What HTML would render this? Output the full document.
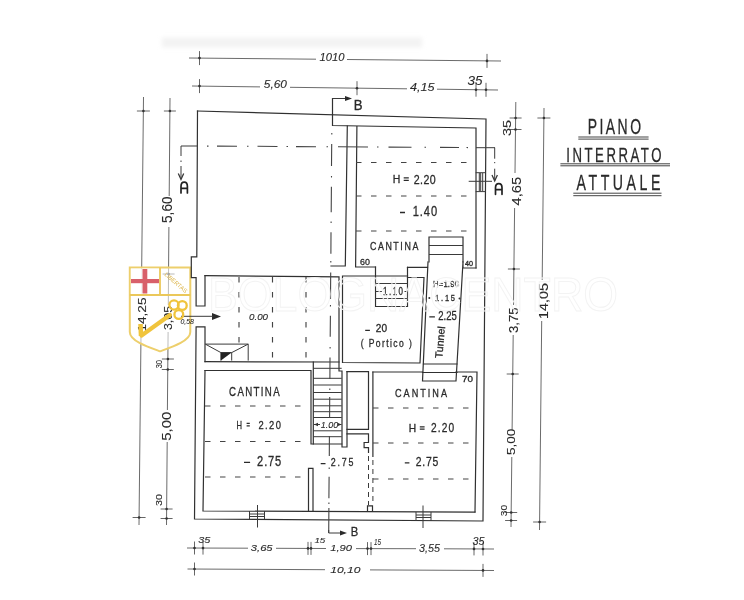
<!DOCTYPE html>
<html><head><meta charset="utf-8">
<style>
html,body{margin:0;padding:0;background:#fff;}
body{width:744px;height:600px;overflow:hidden;}
svg{display:block;will-change:transform;}
text{font-family:"Liberation Sans",sans-serif;fill:#2a2a2a;stroke:#2a2a2a;stroke-width:0.3;}

.w{stroke:#303030;stroke-width:1.2;fill:none;stroke-linecap:square;}
.t{stroke:#3a3a3a;stroke-width:1;fill:none;}
.d{stroke:#5a5a5a;stroke-width:0.9;fill:none;}
.dt{stroke:#555;stroke-width:0.9;fill:none;}
text.th{stroke-width:0.1;}
.dash{stroke:#444;stroke-width:1.15;fill:none;stroke-dasharray:5.5 9.5;}
.dd{stroke:#444;stroke-width:1.1;fill:none;}
.s{stroke:#3a3a3a;stroke-width:1;fill:none;}
</style></head>
<body>
<svg width="744" height="600" viewBox="0 0 744 600">
<rect width="744" height="600" fill="#fff"/>
<!-- bleed --><defs><filter id="bl" x="-10%" y="-50%" width="120%" height="200%"><feGaussianBlur stdDeviation="2"/></filter></defs><rect x="162" y="37.5" width="260" height="10" fill="#f3f3f3" filter="url(#bl)"/>
<!-- ============ DIMENSION LINES ============ -->
<g class="d">
  <path d="M189.0,58.0 L316.0,59.2 M347.0,59.5 L501.0,61.0 M192.0,86.0 L260.0,86.9 M290.0,87.3 L407.0,88.8 M437.0,89.2 L498.0,90.0 M143.5,97.0 L141.4,296.0 M141.0,334.0 L139.0,525.0 M170.0,98.0 L169.2,196.0 M168.9,227.0 L168.3,305.0 M168.1,332.0 L167.4,410.0 M167.2,442.0 L166.5,525.0 M515.8,102.0 L515.0,173.0 M514.6,208.0 L513.5,305.0 M513.2,335.0 L512.1,430.0 M511.8,457.0 L511.0,527.0 M544.0,108.0 L542.2,280.0 M541.7,321.0 L539.5,530.0 M187.0,548.0 L248.0,548.2 M276.0,548.3 L326.0,548.5 M356.0,548.6 L416.0,548.7 M444.0,548.8 L494.0,549.0 M187.5,569.0 L325.0,569.7 M370.0,569.9 L494.0,570.5"/>
</g>
<g class="dt">
  <path d="M199.5,51.1 V65.1 M487.0,53.9 V67.9 M199.5,79.1 V93.1 M357.0,81.2 V95.2 M476.0,82.7 V96.7 M486.0,82.8 V96.8 M136.9,111.0 H149.9 M132.6,517.5 H145.6 M163.9,111.0 H175.9 M162.6,274.0 H174.6 M161.9,359.0 H173.9 M161.8,369.5 H173.8 M160.6,509.0 H172.6 M160.6,518.5 H172.6 M509.6,118.0 H521.6 M509.5,129.5 H521.5 M507.9,269.0 H519.9 M506.7,374.0 H518.7 M505.2,512.5 H517.2 M505.1,520.5 H517.1 M537.4,118.0 H550.4 M533.1,522.0 H546.1 M194.5,541.5 V554.5 M203.0,541.6 V554.6 M308.0,541.9 V554.9 M311.0,541.9 V554.9 M367.5,542.1 V555.1 M371.0,542.1 V555.1 M474.0,542.4 V555.4 M483.0,542.5 V555.5 M194.5,562.5 V575.5 M483.0,563.9 V576.9"/>
</g>
<g fill="#333">
  <circle cx="199.5" cy="58.1" r="1.3"/>
  <circle cx="487.0" cy="60.9" r="1.3"/>
  <circle cx="199.5" cy="86.1" r="1.3"/>
  <circle cx="357.0" cy="88.2" r="1.3"/>
  <circle cx="476.0" cy="89.7" r="1.3"/>
  <circle cx="486.0" cy="89.8" r="1.3"/>
  <circle cx="143.4" cy="111.0" r="1.3"/>
  <circle cx="139.1" cy="517.5" r="1.3"/>
  <circle cx="169.9" cy="111.0" r="1.3"/>
  <circle cx="168.6" cy="274.0" r="1.3"/>
  <circle cx="167.9" cy="359.0" r="1.3"/>
  <circle cx="167.8" cy="369.5" r="1.3"/>
  <circle cx="166.6" cy="509.0" r="1.3"/>
  <circle cx="166.6" cy="518.5" r="1.3"/>
  <circle cx="515.6" cy="118.0" r="1.3"/>
  <circle cx="515.5" cy="129.5" r="1.3"/>
  <circle cx="513.9" cy="269.0" r="1.3"/>
  <circle cx="512.7" cy="374.0" r="1.3"/>
  <circle cx="511.2" cy="512.5" r="1.3"/>
  <circle cx="511.1" cy="520.5" r="1.3"/>
  <circle cx="543.9" cy="118.0" r="1.3"/>
  <circle cx="539.6" cy="522.0" r="1.3"/>
  <circle cx="194.5" cy="548.0" r="1.3"/>
  <circle cx="203.0" cy="548.1" r="1.3"/>
  <circle cx="308.0" cy="548.4" r="1.3"/>
  <circle cx="311.0" cy="548.4" r="1.3"/>
  <circle cx="367.5" cy="548.6" r="1.3"/>
  <circle cx="371.0" cy="548.6" r="1.3"/>
  <circle cx="474.0" cy="548.9" r="1.3"/>
  <circle cx="483.0" cy="549.0" r="1.3"/>
  <circle cx="194.5" cy="569.0" r="1.3"/>
  <circle cx="483.0" cy="570.4" r="1.3"/>
</g>

<!-- ============ LOGO (shield) ============ -->
<g>
  <path d="M129.8,267.5 H190.3 V332 C190.3,341 172,347 160,351.3 C148,347 129.8,341 129.8,332 Z" fill="#fff" fill-opacity="0.55" stroke="#edcf6c" stroke-width="2"/>
  <rect x="130.8" y="268.5" width="28.7" height="25.8" fill="#fff" fill-opacity="0.8"/>
  <path d="M129.8,295 H190.3 M160,267.5 V295" stroke="#ebc85a" stroke-width="1.8" fill="none"/>
  <rect x="142.5" y="269" width="4.8" height="24.5" fill="#d8606a"/>
  <rect x="131" y="279" width="28" height="4.2" fill="#d8606a"/>
  <text transform="translate(164,275) rotate(41)" font-size="6" style="fill:#dcb448;stroke:none" textLength="28" lengthAdjust="spacingAndGlyphs">LIBERTAS</text>
</g>

<!-- ============ WALLS ============ -->
<g class="w">
  <!-- outer -->
  <path d="M197.5,111 L486,119 L483,521 L194.5,519 L196.1,326.8 L205,326.8 L205,361.7"/>
  <path d="M205,275.5 L205,306 L196.1,306 L196.1,277.6 L191.3,277.6 L191.3,256.8 L196.8,256.8 L197.5,111"/>
  <!-- middle room top & right -->
  <path d="M205,275.7 L339,276.8 L339,371 L342,371 L342,447 L347,447 L347,371.7"/>
  <!-- middle room bottom -->
  <path d="M205,361.7 L339,362"/>
  <!-- B box top -->
  <path d="M332.5,98.5 V125.5 L476,128 L476,268"/>
  <!-- wall between big room & right cantina -->
  <path d="M347.3,126 L345.3,266 L331,266"/>
  <path d="M356.9,126.5 L355.6,267 H375.5 M407.5,267.3 H427.5"/>
  <!-- stairs upper (portico) -->
  <path d="M375.5,267 V306.5 H407.5 V267.3"/>
  <!-- portico -->
  <path d="M407.5,276 H342.5 V362.5 L420,363 L424,277.5 H407.5"/>
  <!-- tunnel -->
  <path d="M429,237 H463 V262 M429,237 V262"/>
  <path d="M428,262 L422.5,381 H456 L463,262 M463,262 V268 H476"/>
  <path d="M423.5,364 H457 M422.5,372.5 H457"/>
  <!-- lower right cantina -->
  <path d="M372.9,372 H422.5 M456,372 H477 L475,512"/>
  <path d="M347,371.7 H368.5 V429.4 H347 M347,433.8 H368.5 V442.5 H364.1 V447.6 H368.5 V452.5"/>
  <path d="M372.9,372 V456.5"/>
  <!-- lower left cantina -->
  <path d="M205,370.5 L203,511 L475,512.2"/>
  <path d="M205,370.5 H311 V444 H341.7"/>
  <path d="M313.3,362 V444"/>
  <path d="M308.5,468.3 H313 V511 M308.5,468.3 V511"/>
  <!-- small bottom rect at dashed wall -->
  <path d="M367.5,511 V505.8 H372.5 V511"/>
</g>

<!-- dashed wall -->
<g class="t" stroke-dasharray="5 4">
  <path d="M368.5,456 V505 M372.9,460 V505"/>
</g>

<!-- stair steps -->
<g class="s">
  <path d="M313.3,368.3 H341.7 M313.3,378.3 H341.7 M313.3,385 H341.7 M313.3,392.5 H341.7 M313.3,399.2 H341.7 M313.3,405.8 H341.7 M313.3,411.7 H341.7 M313.3,417.5 H341.7 M313.3,430.8 H341.7 M313.3,436.7 H341.7"/>
  <path d="M375.5,283.5 H407.5 M375.5,298.5 H407.5"/>
  <path d="M429,245.5 H463 M429,254.5 H463"/>
</g>

<!-- windows -->
<g class="s">
  <path d="M475.7,172.7 H485.7 M475.7,191.6 H485.7 M479.3,173 V191 M480.7,173 V191 M482.7,173 V191 M468.7,181.3 H492"/>
  <path d="M249.5,511 V519 M264.5,511 V519 M249.5,514 H264.5 M249.5,516.5 H264.5 M257.5,505 V527.5"/>
  <path d="M416,512 V521 M431,512 V521 M416,515 H431 M416,517.5 H431 M423,505.5 V528"/>
</g>

<!-- ramp -->
<g class="s">
  <path d="M205.3,344.1 H248.2 V360.6 M205.3,344.1 L220.9,352.6 H231.7 L248.2,344.1 M220.9,352.6 V360.6 M231.7,352.6 V360.6"/>
</g>
<path d="M220.9,352.6 L231.7,352.6 L220.9,360.6 Z" fill="#222"/>

<!-- dashed lines -->
<g class="dash">
  <path d="M356,162.5 H476 M356,196 H476 M356,231 H476"/>
  <path d="M239,277 V343 M272.5,277 V361 M306,277 V361"/>
  <path d="M205,406 H310 M205,441.5 H310 M205,477 H308"/>
  <path d="M373,408 H476 M373,443 H476 M373,479 H476"/>
</g>

<!-- dash-dot section lines -->
<g class="s"><path d="M181,146 V156 M181,160.5 V162 M181,166 V179 M494.7,147.7 V158.7 M494.7,162 V163.2 M494.7,168.7 V180.7"/>
<path d="M178.3,173.5 L181,179.5 L183.7,173.5 M492,175 L494.7,181 L497.4,175" stroke-width="1.3"/></g>
<g class="s" style="stroke:#222;stroke-width:1.7" stroke-linecap="round"><path d="M181,193 V186.5 Q181,182.2 184.2,182.2 Q187.4,182.2 187.4,186.5 V193 M181,188.3 H187.4"/>
<path d="M495.5,194.3 V187.8 Q495.5,183.6 498.8,183.6 Q502,183.6 502,187.8 V194.3 M495.5,189.6 H502"/></g>
<g class="dd">
  <path d="M207,146.1 L208.5,146.1 M217,146.1 L237,146.2 M247,146.3 L248.5,146.3 M257.5,146.3 L277.5,146.5 M286.5,146.5 L288,146.5 M296,146.6 L316,146.7 M326.5,146.7 L328,146.8 M338,146.8 L368,147.0 M377,147.0 L378.5,147.0 M388.5,147.1 L411.5,147.2 M424.5,147.3 L426,147.3 M440,147.4 L459,147.5 M466.5,147.5 L468,147.6"/>
  <path d="M331.8,133 L331.8,134.5 M331.7,144 L331.5,166 M331.5,176 L331.5,177.5 M331.4,186.7 L331.2,212.3 M331.1,221.5 L331.1,223 M331.0,232.3 L330.9,253.7 M330.8,261 L330.8,262.5 M330.7,272.5 L330.5,299 M330.5,305 L330.4,306.5 M330.4,315.8 L330.2,336.7 M330.1,347 L330.1,348.5 M330.0,357.5 L329.9,379 M329.8,388.5 L329.8,390 M329.7,397 L329.6,417.7 M329.5,426.5 L329.5,428 M329.4,436 L329.3,456 M329.2,467.5 L329.2,469 M329.1,476.7 L328.9,498.3 M328.9,502.5 L328.9,504 M328.9,508 L328.7,533"/>
</g>
<g class="s">
  <path d="M181,146 H197.5"/>
  <path d="M476,147.7 H495"/>
  <path d="M328.7,530 V533 H343"/>
  <path d="M332.5,98.5 H348"/>
</g>
<g fill="#2a2a2a">
  <path d="M347,533 L340,530.5 L340,535.5 Z"/>
  <path d="M352,98.5 L345,96 L345,101 Z"/>
  <path d="M221,316.5 L212,313 L212,320 Z"/>
</g>
<path d="M181,316.3 H213" class="s"/>

<!-- ============ TEXT ============ -->
<g>
  <text x="392.8" y="183.4" font-size="11.7" textLength="7.6" lengthAdjust="spacingAndGlyphs">H</text>
  <text transform="scale(0.8,1)" x="517.2" y="183.6" font-size="13.3" textLength="27.4" lengthAdjust="spacing">2.20</text>
  <text transform="scale(0.8,1)" x="515.9" y="216.0" font-size="13.9" textLength="30.5" lengthAdjust="spacing">1.40</text>
  <text transform="scale(0.8,1)" x="462.4" y="250.0" font-size="11.1" textLength="60.5" lengthAdjust="spacing">CANTINA</text>
  <text x="360.0" y="264.8" font-size="9.4" textLength="9.9" lengthAdjust="spacingAndGlyphs">60</text>
  <text x="465.0" y="265.5" font-size="6.4" textLength="8.0" lengthAdjust="spacingAndGlyphs">40</text>
  <text transform="scale(0.8,1)" x="478.8" y="295.0" font-size="10.0" textLength="25.0" lengthAdjust="spacing">1.10</text>
  <text x="375.8" y="331.5" font-size="10.0" textLength="11.2" lengthAdjust="spacingAndGlyphs">20</text>
  <text transform="scale(0.8,1)" x="450.9" y="347.3" font-size="10.7" textLength="63.9" lengthAdjust="spacing">( Portico )</text>
  <text transform="scale(0.8,1)" x="541.2" y="286.7" font-size="9.6" textLength="32.5" lengthAdjust="spacing">H=1.90</text>
  <text transform="scale(0.8,1)" x="543.8" y="301.3" font-size="9.4" textLength="25.0" lengthAdjust="spacing">1.15</text>
  <text transform="scale(0.8,1)" x="547.8" y="320.5" font-size="11.9" textLength="23.1" lengthAdjust="spacing">2.25</text>
  <text x="462.0" y="382.0" font-size="8.6" textLength="11.0" lengthAdjust="spacingAndGlyphs">70</text>
  <text transform="scale(0.8,1)" x="286.4" y="396.3" font-size="12.1" textLength="63.1" lengthAdjust="spacing">CANTINA</text>
  <text x="236.5" y="428.6" font-size="10.9" textLength="5.5" lengthAdjust="spacingAndGlyphs">H</text>
  <text transform="scale(0.8,1)" x="323.1" y="428.6" font-size="11.7" textLength="28.1" lengthAdjust="spacing">2.20</text>
  <text transform="scale(0.8,1)" x="321.4" y="466.1" font-size="13.9" textLength="30.2" lengthAdjust="spacing">2.75</text>
  <text transform="scale(0.8,1)" x="413.6" y="465.7" font-size="11.1" textLength="28.3" lengthAdjust="spacing">2.75</text>
  <text transform="scale(0.8,1)" x="493.8" y="397.0" font-size="11.4" textLength="65.0" lengthAdjust="spacing">CANTINA</text>
  <text x="408.7" y="431.8" font-size="10.7" textLength="7.4" lengthAdjust="spacingAndGlyphs">H</text>
  <text transform="scale(0.8,1)" x="538.6" y="432.4" font-size="12.7" textLength="29.1" lengthAdjust="spacing">2.20</text>
  <text transform="scale(0.8,1)" x="519.6" y="466.2" font-size="13.0" textLength="28.4" lengthAdjust="spacing">2.75</text>
  <text x="353.8" y="110.0" font-size="14.3" textLength="8.8" lengthAdjust="spacingAndGlyphs">B</text>
  <text x="350.8" y="535.8" font-size="13.0" textLength="7.5" lengthAdjust="spacingAndGlyphs">B</text>
  <text x="249.0" y="320.0" font-size="8.6" textLength="19.0" lengthAdjust="spacingAndGlyphs" font-style="italic" class="th">0.00</text>
  <text x="180.4" y="324.0" font-size="7.1" textLength="13.4" lengthAdjust="spacingAndGlyphs" font-style="italic" class="th">0,58</text>
  <text x="320.8" y="427.5" font-size="9.6" textLength="17.5" lengthAdjust="spacingAndGlyphs" font-style="italic" class="th">1.00</text>
  <text x="319.5" y="61.2" font-size="10.7" textLength="25.0" lengthAdjust="spacingAndGlyphs" font-style="italic" class="th">1010</text>
  <text x="263.8" y="87.5" font-size="10.7" textLength="23.2" lengthAdjust="spacingAndGlyphs" font-style="italic" class="th">5,60</text>
  <text x="410.0" y="91.0" font-size="11.4" textLength="24.5" lengthAdjust="spacingAndGlyphs" font-style="italic" class="th">4,15</text>
  <text x="467.5" y="85.0" font-size="12.9" textLength="15.0" lengthAdjust="spacingAndGlyphs" font-style="italic" class="th">35</text>
  <text x="198.3" y="543.3" font-size="8.6" textLength="12.1" lengthAdjust="spacingAndGlyphs" font-style="italic" class="th">35</text>
  <text x="250.8" y="550.5" font-size="8.6" textLength="21.8" lengthAdjust="spacingAndGlyphs" font-style="italic" class="th">3,65</text>
  <text x="314.4" y="543.3" font-size="7.6" textLength="10.9" lengthAdjust="spacingAndGlyphs" font-style="italic" class="th">15</text>
  <text x="330.2" y="551.0" font-size="9.3" textLength="21.8" lengthAdjust="spacingAndGlyphs" font-style="italic" class="th">1,90</text>
  <text x="330.2" y="572.5" font-size="9.6" textLength="30.2" lengthAdjust="spacingAndGlyphs" font-style="italic" class="th">10,10</text>
  <text x="374.0" y="545.0" font-size="8.6" textLength="7.0" lengthAdjust="spacingAndGlyphs" font-style="italic" class="th">15</text>
  <text x="419.0" y="552.0" font-size="10.0" textLength="21.0" lengthAdjust="spacingAndGlyphs" font-style="italic" class="th">3,55</text>
  <text x="472.5" y="545.0" font-size="11.4" textLength="12.0" lengthAdjust="spacingAndGlyphs" font-style="italic" class="th">35</text>
</g>
<path d="M400,212.5 H405 M244,462.4 H250.1 M320.7,463.6 H325.5 M404.8,462.9 H409.4 M365.2,330.3 H369.9 M429.3,316.8 H434.9 M403.7,177.8 H408.8 M403.7,180.4 H408.8 M246.6,423.3 H249.8 M246.6,425.9 H249.8 M419.8,426.9 H424.6 M419.8,429.2 H424.6" stroke="#2a2a2a" stroke-width="1.3" fill="none"/>

<!-- rotated dimension texts -->
<g>
  <text class="th" transform="translate(172.3,223) rotate(-90)" font-size="13.8" textLength="26.6" lengthAdjust="spacingAndGlyphs">5,60</text>
  <text class="th" transform="translate(145.8,331.7) rotate(-90)" font-size="11.5" textLength="34.2" lengthAdjust="spacingAndGlyphs">14,25</text>
  <text class="th" transform="translate(171.7,330) rotate(-90)" font-size="10.7" textLength="24.0" lengthAdjust="spacingAndGlyphs">3,05</text>
  <text class="th" transform="translate(161.7,368.3) rotate(-90)" font-size="9.3" textLength="8.3" lengthAdjust="spacingAndGlyphs">30</text>
  <text class="th" transform="translate(171.2,440.8) rotate(-90)" font-size="13.7" textLength="29.1" lengthAdjust="spacingAndGlyphs">5,00</text>
  <text class="th" transform="translate(162,506) rotate(-90)" font-size="9.7" textLength="12.0" lengthAdjust="spacingAndGlyphs">30</text>
  <text class="th" transform="translate(511,136) rotate(-90)" font-size="11.8" textLength="16.0" lengthAdjust="spacingAndGlyphs">35</text>
  <text class="th" transform="translate(520.5,205.5) rotate(-90)" font-size="13.2" textLength="28.6" lengthAdjust="spacingAndGlyphs">4,65</text>
  <text class="th" transform="translate(517.5,333.1) rotate(-90)" font-size="13.2" textLength="25.8" lengthAdjust="spacingAndGlyphs">3,75</text>
  <text class="th" transform="translate(515.4,455) rotate(-90)" font-size="11.0" textLength="26.2" lengthAdjust="spacingAndGlyphs">5,00</text>
  <text class="th" transform="translate(506.6,516.3) rotate(-90)" font-size="9.7" textLength="11.4" lengthAdjust="spacingAndGlyphs">30</text>
  <text class="th" transform="translate(548,319) rotate(-90)" font-size="13.2" textLength="36.0" lengthAdjust="spacingAndGlyphs">14,05</text>
</g>

<text transform="translate(442.3,358.5) rotate(-85)" textLength="32" lengthAdjust="spacingAndGlyphs" font-size="10.5">Tunnel</text>

<!-- title -->
<g>
  <text transform="scale(0.65,1)" x="904.2" y="134.4" font-size="21.5" textLength="82.0" lengthAdjust="spacing">PIANO</text>
  <text transform="scale(0.65,1)" x="871.1" y="162.4" font-size="20.3" textLength="146.6" lengthAdjust="spacing">INTERRATO</text>
  <text transform="scale(0.65,1)" x="887.1" y="190.3" font-size="21.8" textLength="128.9" lengthAdjust="spacing">ATTUALE</text>
  <path d="M578.3,137 H648.6 M578.3,139.1 H648.6 M560.4,163.8 H670 M560.4,165.8 H670 M573.3,193.2 H661.5 M573.3,195.7 H661.5" stroke="#444" stroke-width="1"/>
</g>

<!-- ============ LOGO (key) ============ -->
<g fill="none" stroke="#f0c43c">
  <path d="M170,315 L141.5,335.5" stroke-width="4.2" stroke-linecap="round"/>
  <path d="M141,336 L140.5,324" stroke-width="4.5"/>
  <circle cx="174" cy="305" r="4.6" stroke-width="2.3"/>
  <circle cx="182.3" cy="305.5" r="4.4" stroke-width="2.3"/>
  <circle cx="178.8" cy="314.5" r="4.4" stroke-width="2.3"/>
</g>
<!-- small dimension marks -->
<g class="s">
  <path d="M375.5,291.5 H382 M404.5,291.5 H407.5"/>
  <path d="M314,424.5 H320 M339,424.5 H341.5"/>
</g>
<g fill="#333">
  <circle cx="429.3" cy="298" r="1"/><circle cx="459.5" cy="298.5" r="1"/>
  <path d="M314,424.5 L318,422.8 L318,426.2 Z M341.5,424.5 L337.5,422.8 L337.5,426.2 Z"/>
</g>
<!-- watermark -->
<text x="208" y="311" font-size="48" textLength="410" lengthAdjust="spacingAndGlyphs" style="fill:#fff;fill-opacity:0.12;stroke:#f3f3f3;stroke-width:1">BOLOGNACENTRO</text>
</svg>
</body></html>
